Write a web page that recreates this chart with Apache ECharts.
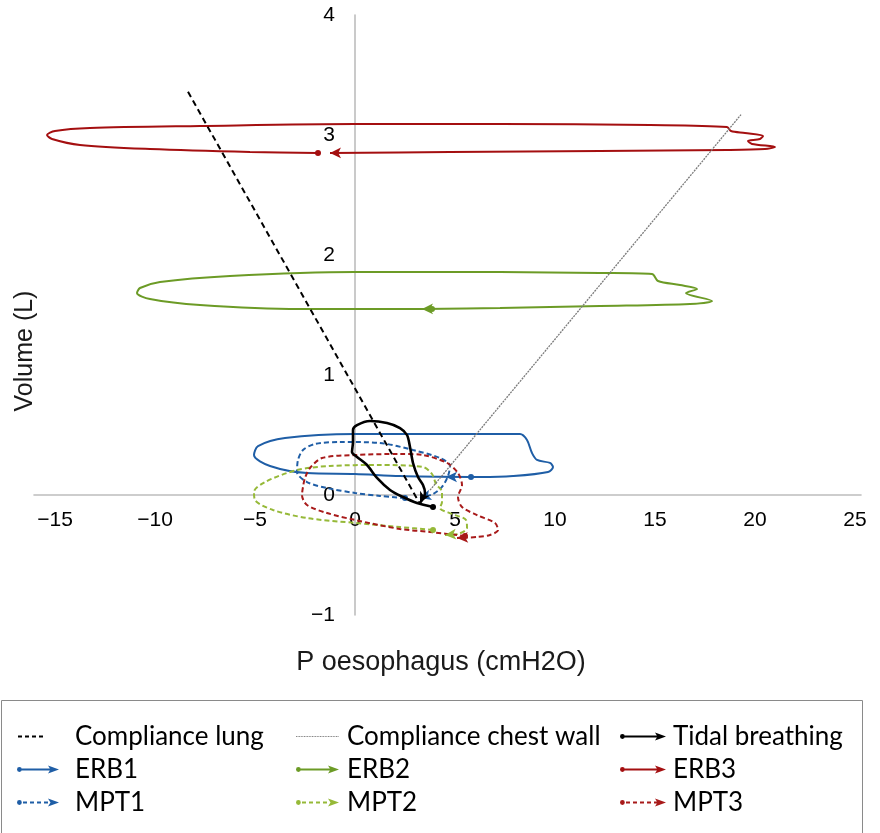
<!DOCTYPE html>
<html>
<head>
<meta charset="utf-8">
<script src="https://cdn.jsdelivr.net/npm/echarts@6/dist/echarts.min.js"></script>
<style>
  html, body { margin: 0; padding: 0; background: #ffffff; }
  #chart { width: 880px; height: 833px; }
</style>
</head>
<body>
<div id="chart"></div>
<script>
// Axis tick values
const xTickValues = [-15, -10, -5, 0, 5, 10, 15, 20, 25];
const yTickValues = [-1, 0, 1, 2, 3, 4];

// Compliance reference lines [P oesophagus (cmH2O), Volume (L)]
const complianceLung = [[-8.35, 3.36], [3.2, -0.06]];
const complianceChestWall = [[3.75, 0.04], [19.3, 3.17]];

// Pressure-volume loops, first point = start, last point = end (arrow)
const tidalBreathing = [
  [3.9, -0.1], [3.1, -0.067], [2.4, -0.017], [1.75, 0.042], [1.1, 0.142], [0.6, 0.25],
  [0.1, 0.317], [-0.15, 0.358], [-0.1, 0.442], [-0.1, 0.542], [0.1, 0.583], [0.75, 0.617],
  [1.6, 0.6], [2.25, 0.558], [2.6, 0.5], [2.75, 0.4], [2.9, 0.267], [3.15, 0.15],
  [3.4, 0.083], [3.5, 0.017], [3.25, -0.067]
];
const erb1 = [
  [5.8, 0.15], [2.25, 0.158], [0, 0.175], [-2.4, 0.183], [-4.25, 0.242], [-5.05, 0.333],
  [-4.85, 0.408], [-3.5, 0.475], [0, 0.508], [4.75, 0.508], [8.25, 0.508], [8.6, 0.458],
  [8.85, 0.35], [9.1, 0.292], [9.75, 0.267], [9.9, 0.233], [9.65, 0.192], [7.9, 0.158],
  [6.25, 0.15], [4.55, 0.15]
];
const erb2 = [
  [3.85, 1.55], [-2.75, 1.55], [-7.75, 1.583], [-10.25, 1.633], [-10.9, 1.683], [-10.75, 1.725],
  [-9.75, 1.775], [-6.25, 1.825], [0, 1.858], [7.25, 1.858], [12.25, 1.85], [14.85, 1.842],
  [15.15, 1.783], [16.25, 1.75], [17.1, 1.717], [16.55, 1.683], [17.85, 1.617], [16.75, 1.592],
  [12.25, 1.575], [7.25, 1.558], [3.35, 1.55]
];
const erb3 = [
  [-1.85, 2.85], [-5.25, 2.858], [-10.25, 2.883], [-13.75, 2.917], [-15.15, 2.967], [-15.4, 3.0],
  [-15.0, 3.033], [-13.25, 3.058], [-7.75, 3.075], [0, 3.092], [7.25, 3.092], [14.75, 3.083],
  [18.6, 3.067], [18.8, 3.033], [19.5, 3.017], [20.4, 2.992], [20.25, 2.967], [19.65, 2.95],
  [19.85, 2.925], [21.0, 2.9], [20.5, 2.883], [18.6, 2.875], [12.25, 2.867], [4.75, 2.858],
  [-1.25, 2.85]
];
const mpt1 = [
  [2.5, -0.025], [1.25, -0.008], [0, 0.017], [-1.4, 0.058], [-2.4, 0.108], [-2.9, 0.192],
  [-2.85, 0.292], [-2.6, 0.375], [-2.0, 0.425], [-0.75, 0.442], [1.25, 0.433], [2.9, 0.375],
  [4.25, 0.308], [4.75, 0.242], [4.65, 0.158], [4.35, 0.067], [3.9, 0.008], [3.25, -0.025]
];
const mpt2 = [
  [3.9, -0.292], [2.25, -0.267], [0, -0.233], [-2.4, -0.192], [-4.1, -0.125], [-5.0, -0.042],
  [-5.05, 0.025], [-4.5, 0.108], [-2.9, 0.208], [-1.25, 0.242], [1.25, 0.25], [3.4, 0.233],
  [3.85, 0.175], [4.05, 0.092], [4.35, 0.025], [4.35, -0.058], [4.25, -0.108], [4.85, -0.158],
  [5.55, -0.208], [5.6, -0.275], [5.15, -0.325], [4.5, -0.333]
];
const mpt3 = [
  [5.5, -0.342], [3.75, -0.308], [2.25, -0.283], [0, -0.208], [-1.4, -0.15], [-2.4, -0.083],
  [-2.65, 0], [-2.6, 0.067], [-2.5, 0.142], [-2.25, 0.225], [-1.65, 0.308], [0, 0.333],
  [2.25, 0.342], [3.4, 0.333], [4.6, 0.267], [5.15, 0.183], [5.35, 0.083], [5.15, -0.017],
  [5.35, -0.1], [6.1, -0.167], [7.0, -0.233], [7.15, -0.292], [6.75, -0.333], [6.1, -0.35],
  [5.1, -0.358]
];

const COLORS = {
  black: '#000000',
  grey: '#7a7a7a',
  erb1: '#1f5ea6', mpt1: '#1f5ea6',
  erb2: '#6c9b26', mpt2: '#96b938',
  erb3: '#a40f10', mpt3: '#a81a1a'
};

const FONT = '"Liberation Sans", Arial, sans-serif';

// Plot frame and value ranges
const GRID = { left: 34, right: 19, top: 15, bottom: 218 };
const X_RANGE = [-16.05, 25.3];
const Y_RANGE = [-1, 4];
const plotW = 880 - GRID.left - GRID.right;
const plotH = 833 - GRID.top - GRID.bottom;
// axes cross at the origin: shift each axis from the frame edge to zero
const xAxisOffset = -plotH * (0 - Y_RANGE[0]) / (Y_RANGE[1] - Y_RANGE[0]);
const yAxisOffset = -plotW * (0 - X_RANGE[0]) / (X_RANGE[1] - X_RANGE[0]);

// ---------- legend icon paths ----------
function rect(x0, x1, y0, y1) {
  return 'M' + x0 + ',' + y0 + 'L' + x1 + ',' + y0 + 'L' + x1 + ',' + y1 + 'L' + x0 + ',' + y1 + 'Z';
}
// zero-area corners so every icon keeps the same bounding box
function frame(boxW) {
  return 'M0,0L0.01,0L0,0.01Z M' + boxW + ',10L' + (boxW - 0.01) + ',10L' + boxW + ',9.99Z';
}
function arrowIcon(dashed, visW, boxW) {
  let p = frame(boxW) + ' M0,5A2.4,2.4,0,1,1,4.8,5A2.4,2.4,0,1,1,0,5Z';
  const shaftEnd = visW - 8;
  if (dashed) {
    for (let x = 6; x + 4 <= shaftEnd + 1; x += 7) p += ' ' + rect(x, x + 4, 4.0, 6.0);
  } else {
    p += ' ' + rect(3, shaftEnd, 4.0, 6.0);
  }
  p += ' M' + (visW - 11) + ',1.0L' + visW + ',5L' + (visW - 11) + ',9.0L' + (visW - 8.5) + ',5Z';
  return 'path://' + p;
}
function dashIcon(boxW) {
  let p = frame(boxW);
  for (let x = 1; x < 28; x += 7) p += ' ' + rect(x, x + 4, 4.1, 5.9);
  return 'path://' + p;
}
function dotIcon(visW, boxW) {
  let p = frame(boxW);
  for (let x = 0; x < visW; x += 1.6) p += ' ' + rect(x, x + 0.9, 4.4, 5.6);
  return 'path://' + p;
}

// ---------- series ----------
function loopSeries(name, pts, color, dashed, width, z) {
  const data = pts.map(function (p, i) {
    if (i === 0) return { value: p, symbol: 'circle', symbolSize: 6 };
    if (i === pts.length - 1) return { value: p, symbol: 'arrow', symbolSize: [8, 11] };
    return { value: p };
  });
  return {
    name: name, type: 'line', data: data, symbol: 'none', showSymbol: true,
    smooth: 0.3, z: z, silent: true, animation: false,
    lineStyle: { color: color, width: width, type: dashed ? [5, 3] : 'solid' },
    itemStyle: { color: color, borderWidth: 0 }
  };
}

const series = [
  {
    name: 'Compliance lung', type: 'line', data: complianceLung, symbol: 'none', z: 4, silent: true,
    lineStyle: { color: COLORS.black, width: 2, type: [6, 4] }, itemStyle: { color: COLORS.black }
  },
  {
    name: 'Compliance chest wall', type: 'line', data: complianceChestWall, symbol: 'none', z: 4, silent: true,
    lineStyle: { color: COLORS.grey, width: 1.3, type: [2, 1] }, itemStyle: { color: COLORS.grey }
  },
  loopSeries('ERB1', erb1, COLORS.erb1, false, 2, 3),
  loopSeries('ERB2', erb2, COLORS.erb2, false, 2, 3),
  loopSeries('ERB3', erb3, COLORS.erb3, false, 2, 3),
  loopSeries('MPT1', mpt1, COLORS.mpt1, true, 2, 3),
  loopSeries('MPT2', mpt2, COLORS.mpt2, true, 2, 3),
  loopSeries('MPT3', mpt3, COLORS.mpt3, true, 2, 3),
  loopSeries('Tidal breathing', tidalBreathing, COLORS.black, false, 2.6, 5)
];

const legendText = { fontSize: 26, fontFamily: 'Lato, "Open Sans", sans-serif', color: '#000', lineHeight: 31 };
function legendCol(left, itemWidth, items) {
  return {
    orient: 'vertical', left: left, top: 716, padding: 5, itemWidth: itemWidth, itemHeight: 10, itemGap: 2,
    selectedMode: false, textStyle: legendText, itemStyle: { borderWidth: 0 },
    data: items
  };
}

const labelFmt = function (v) { return String(v).replace('-', '\u2212'); };

const option = {
  animation: false,
  backgroundColor: '#ffffff',
  grid: {
    left: GRID.left, right: GRID.right, top: GRID.top, bottom: GRID.bottom,
    containLabel: false, outerBoundsMode: 'none'
  },
  xAxis: {
    type: 'value', min: X_RANGE[0], max: X_RANGE[1], position: 'bottom', offset: xAxisOffset,
    axisLine: { onZero: false, lineStyle: { color: '#bdbdbd', width: 1.6 } },
    axisTick: { show: false },
    splitLine: { show: false },
    axisLabel: {
      customValues: xTickValues, margin: 15, fontSize: 21, fontFamily: FONT, color: '#000',
      formatter: labelFmt
    }
  },
  yAxis: {
    type: 'value', min: Y_RANGE[0], max: Y_RANGE[1], interval: 1, position: 'left', offset: yAxisOffset,
    axisLine: { onZero: false, lineStyle: { color: '#bdbdbd', width: 1.6 } },
    axisTick: { show: false },
    splitLine: { show: false },
    axisLabel: {
      customValues: yTickValues, margin: 20, fontSize: 21, fontFamily: FONT, color: '#000',
      formatter: labelFmt
    }
  },
  legend: [
    legendCol(12, 53, [
      { name: 'Compliance lung', icon: dashIcon(53) },
      { name: 'ERB1', icon: arrowIcon(false, 42, 53) },
      { name: 'MPT1', icon: arrowIcon(true, 42, 53) }
    ]),
    legendCol(291, 46, [
      { name: 'Compliance chest wall', icon: dotIcon(43, 46) },
      { name: 'ERB2', icon: arrowIcon(false, 43, 46) },
      { name: 'MPT2', icon: arrowIcon(true, 43, 46) }
    ]),
    legendCol(615, 48, [
      { name: 'Tidal breathing', icon: arrowIcon(false, 46, 48) },
      { name: 'ERB3', icon: arrowIcon(false, 46, 48) },
      { name: 'MPT3', icon: arrowIcon(true, 46, 48) }
    ])
  ],
  graphic: [
    {
      type: 'rect', silent: true,
      shape: { x: 1.5, y: 700.5, width: 861, height: 140 },
      style: { fill: 'none', stroke: '#8a8a8a', lineWidth: 1 }
    },
    {
      type: 'text', x: 25, y: 351, rotation: Math.PI / 2, silent: true,
      style: { text: 'Volume (L)', font: '25px ' + FONT, fill: '#1a1a1a', align: 'center', verticalAlign: 'middle' }
    },
    {
      type: 'text', x: 441, y: 663, silent: true,
      style: { text: 'P oesophagus (cmH2O)', font: '27px ' + FONT, fill: '#1a1a1a', align: 'center', verticalAlign: 'middle' }
    }
  ],
  series: series
};

const chart = echarts.init(document.getElementById('chart'), null, { renderer: 'canvas' });
chart.setOption(option);

// Point each end arrow along the last segment of its loop (screen space)
option.series.forEach(function (s) {
  const d = s.data;
  const n = d.length;
  const last = d[n - 1];
  if (last && last.symbol === 'arrow') {
    const a = chart.convertToPixel({ gridIndex: 0 }, d[n - 2].value);
    const b = chart.convertToPixel({ gridIndex: 0 }, last.value);
    last.symbolRotate = -90 - Math.atan2(b[1] - a[1], b[0] - a[0]) * 180 / Math.PI;
  }
});
chart.setOption({ series: option.series });
</script>
</body>
</html>
